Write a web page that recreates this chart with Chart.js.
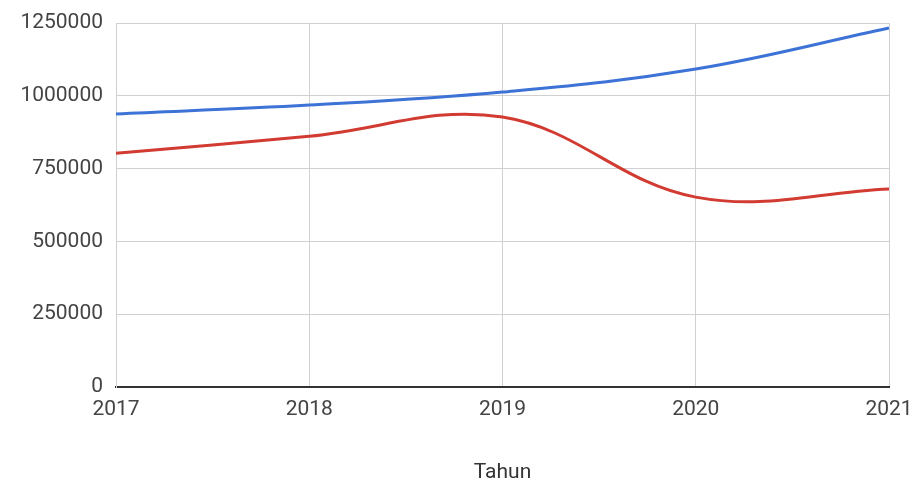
<!DOCTYPE html>
<html>
<head>
<meta charset="utf-8">
<script src="https://cdn.jsdelivr.net/npm/chart.js@4"></script>
<style>
  html, body { margin: 0; padding: 0; background: #fff; }
  #wrap { width: 915px; height: 483px; }
</style>
</head>
<body>
<div id="wrap"><canvas id="lineChart" width="915" height="483"></canvas></div>
<script>
const tahun = ['2017', '2018', '2019', '2020', '2021'];
const seriBiru = [937500, 968000, 1013000, 1092000, 1233000];
const seriMerah = [803000, 861000, 927000, 652000, 680000];
const yTicks = [0, 250000, 500000, 750000, 1000000, 1250000];

const ctx = document.getElementById('lineChart');

new Chart(ctx, {
  type: 'line',
  data: {
    labels: tahun,
    datasets: [{
      label: 'Biru',
      data: seriBiru,
      borderColor: '#3d72d6',
      borderWidth: 3,
      pointRadius: 0,
      tension: 0.38
    }, {
      label: 'Merah',
      data: seriMerah,
      borderColor: '#d23b31',
      borderWidth: 3,
      pointRadius: 0,
      tension: 0.38
    }]
  },
  options: {
    responsive: false,
    animation: false,
    layout: { padding: { left: 0, right: 0, top: 23, bottom: 0 } },
    plugins: {
      legend: { display: false },
      tooltip: { enabled: false }
    },
    scales: {
      x: {
        grid: { color: '#d0d0d0', drawTicks: false },
        border: { color: '#333', width: 2 },
        ticks: {
          color: '#444',
          font: { family: 'Roboto', size: 21 },
          padding: 10,
          maxRotation: 0
        },
        title: {
          display: true,
          text: 'Tahun',
          color: '#333',
          font: { family: 'Roboto', size: 21, lineHeight: 1 },
          padding: { top: 0, bottom: 0 }
        },
        afterFit: (scale) => {
          scale.height = 96;
          scale.paddingRight = 26;
          scale.paddingLeft = 0;
        }
      },
      y: {
        min: 0,
        max: 1250000,
        afterBuildTicks: (scale) => { scale.ticks = yTicks.map(v => ({ value: v })); },
        grid: { color: '#d0d0d0', drawTicks: false },
        border: { color: '#d0d0d0' },
        ticks: {
          color: '#444',
          font: { family: 'Roboto', size: 21 },
          padding: 13,
          callback: (v) => String(v)
        },
        afterFit: (scale) => {
          scale.width = 116;
          scale.paddingTop = 0;
          scale.paddingBottom = 0;
        }
      }
    }
  }
});
</script>
</body>
</html>
